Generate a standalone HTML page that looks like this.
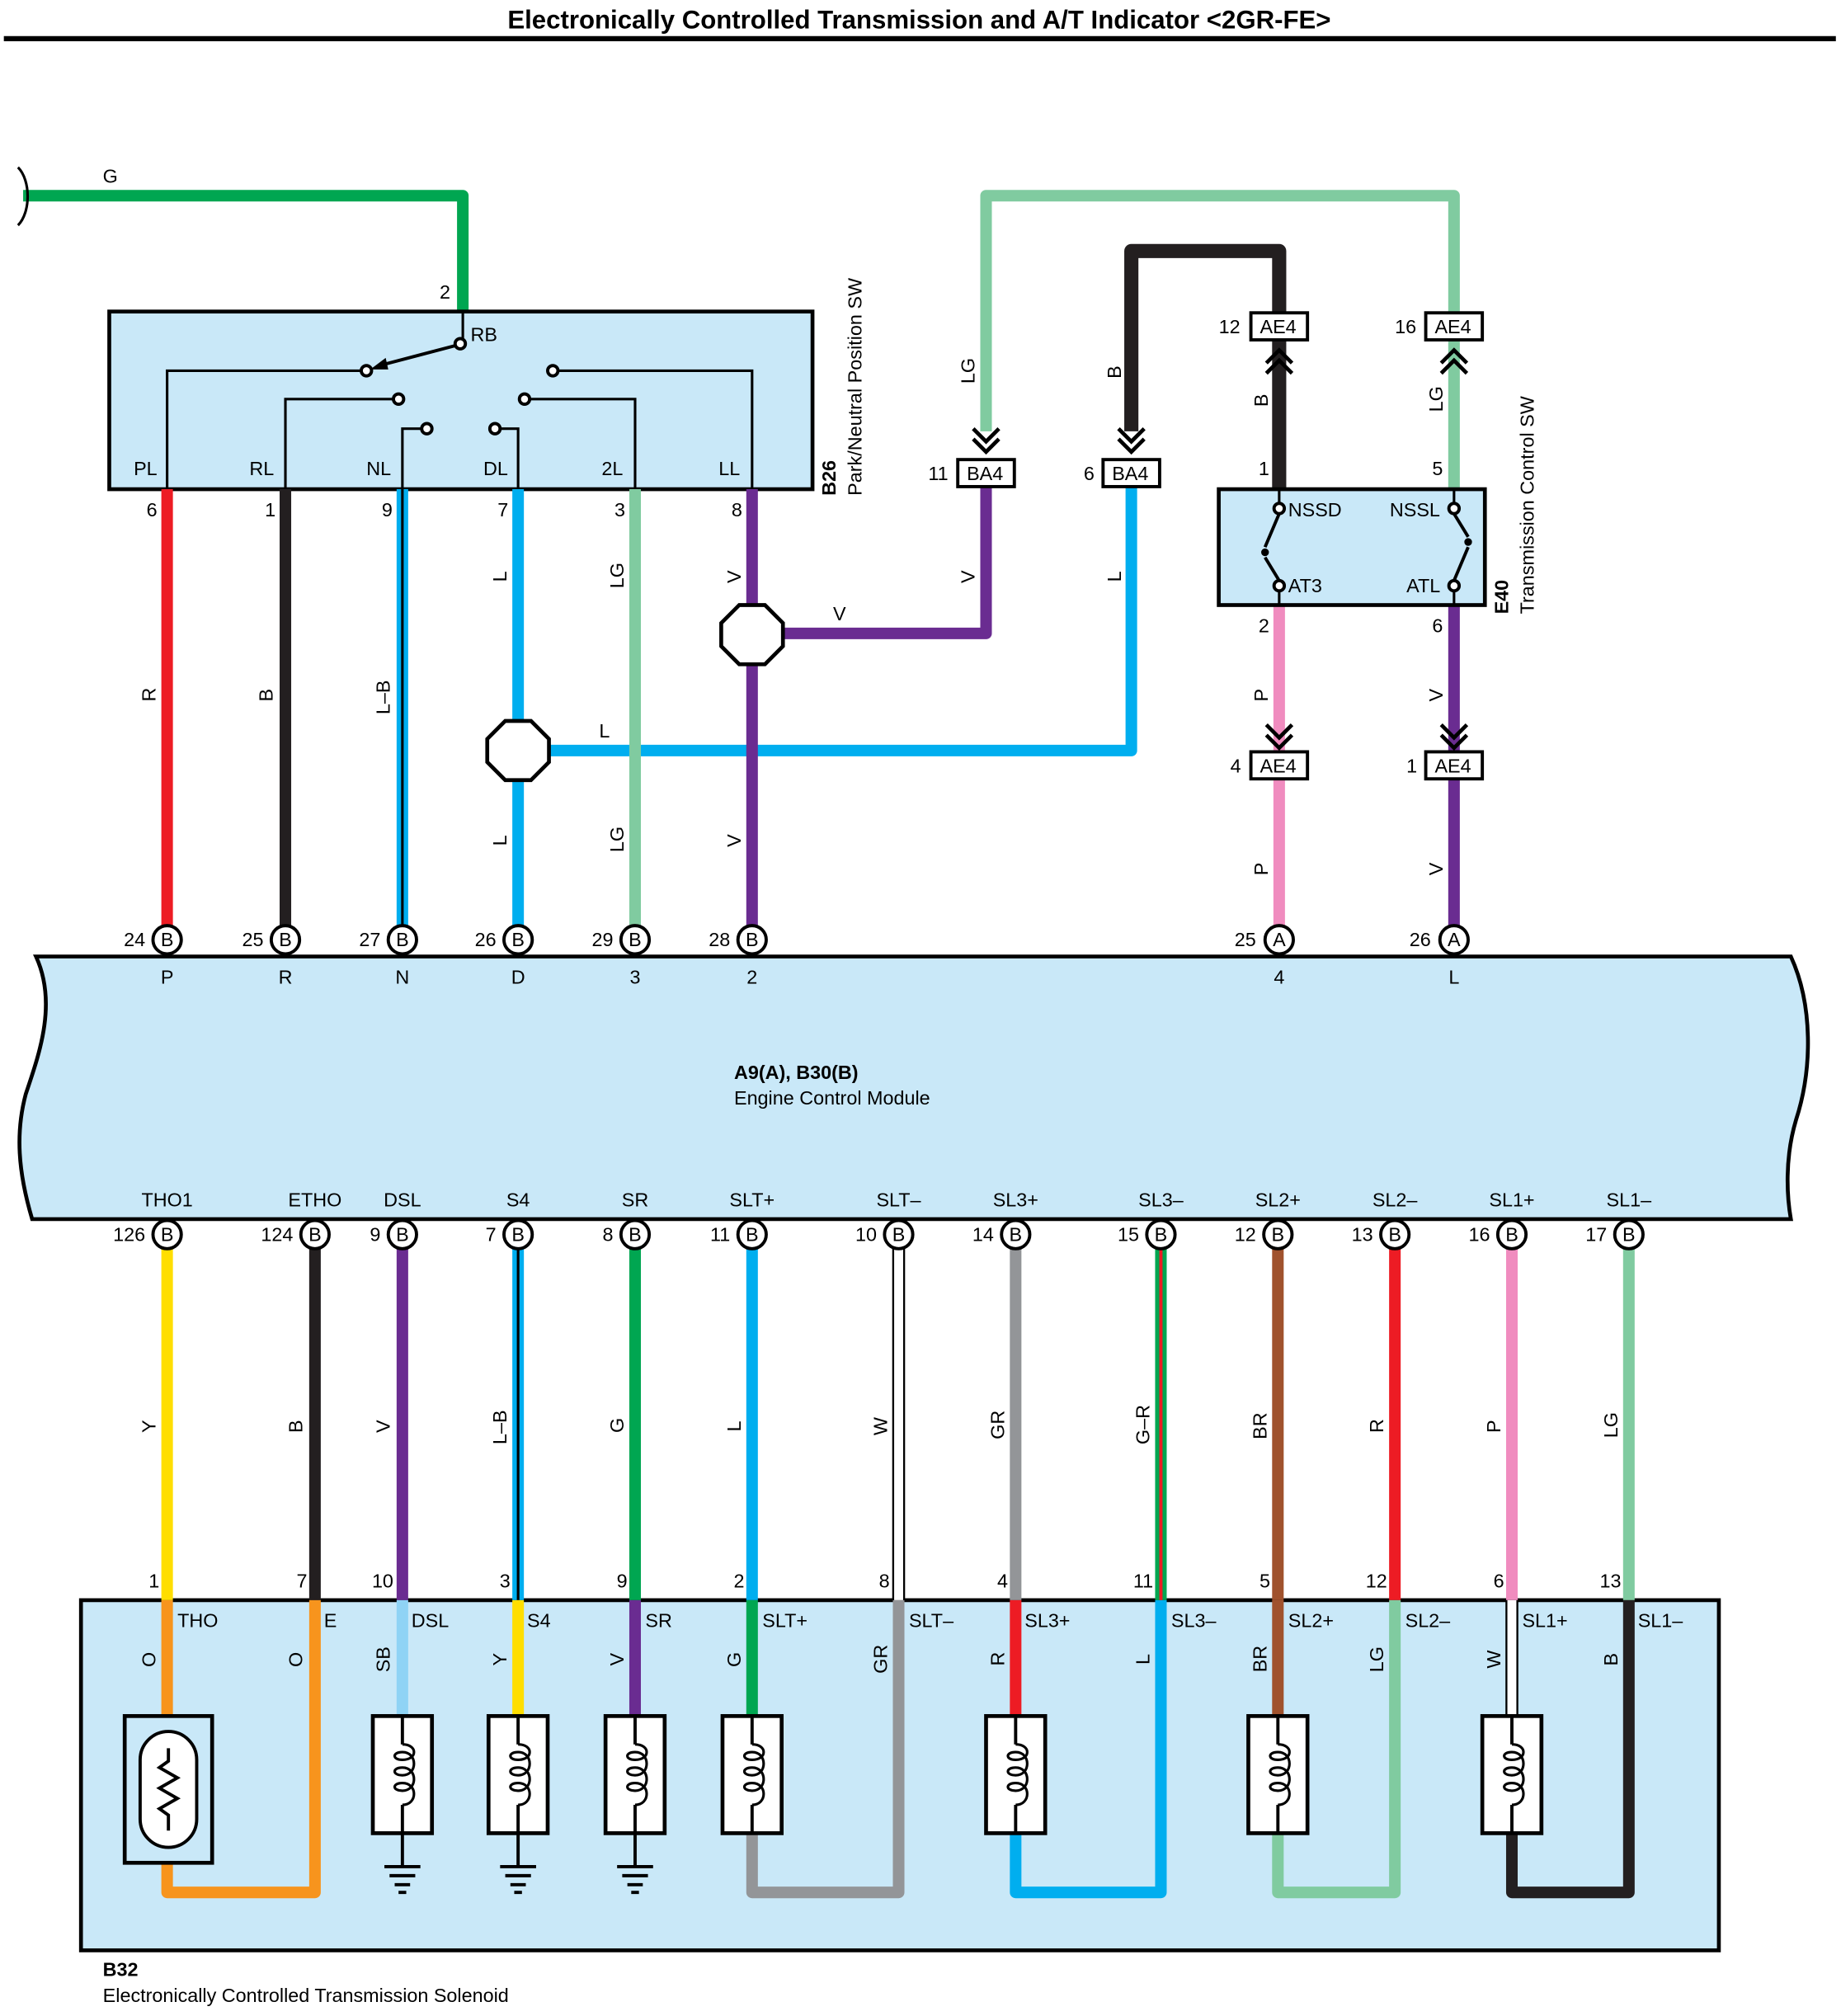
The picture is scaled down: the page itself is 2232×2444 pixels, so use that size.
<!DOCTYPE html>
<html><head><meta charset="utf-8"><style>
html,body{margin:0;padding:0;background:#fff}
svg{display:block}
text{font-family:"Liberation Sans",Arial,sans-serif;font-size:15px;fill:#000}
.b{font-weight:bold}
.w{fill:none;stroke-width:9;stroke-linejoin:round}
.t{fill:none;stroke:#000;stroke-width:2}
.c{fill:#fff;stroke:#000;stroke-width:2.5}
.box{fill:#c9e8f8;stroke:#000;stroke-width:3}
</style></head><body>
<svg width="2232" height="2444" viewBox="0 0 1432 1566" preserveAspectRatio="none" xmlns="http://www.w3.org/2000/svg">
<defs>
<g id="cB">
<circle cx="0" cy="0" r="11" class="c"/>
<text x="0" y="5" text-anchor="middle">B</text>
</g>
</defs>
<text x="715" y="22" text-anchor="middle" class="b" style="font-size:20px">Electronically Controlled Transmission and A/T Indicator &lt;2GR-FE&gt;</text>
<line x1="3" y1="30" x2="1428" y2="30" stroke="#000" stroke-width="4"/>

<path d="M18,152 H360 V242" class="w" stroke="#00a651"/>
<path d="M14,130 C24,140 24,165 14,175" class="t" stroke-width="2.5"/>
<text x="80" y="142">G</text>
<text x="342" y="232">2</text>

<path d="M767,335 V152 H1131 V242" class="w" stroke="#80cba0"/>
<path d="M880,335 V195 H995 V242" class="w" stroke="#231f20" style="stroke-width:11"/>
<path d="M767,378 V492 H585" class="w" stroke="#6a2c91"/>
<path d="M880,378 V583 H403" class="w" stroke="#00aeef"/>
<path d="M995,265 V380" class="w" stroke="#231f20" style="stroke-width:11"/>
<path d="M1131,265 V380" class="w" stroke="#80cba0"/>
<path d="M995,470 V730" class="w" stroke="#f08cbf"/>
<path d="M1131,470 V730" class="w" stroke="#6a2c91"/>

<rect x="85" y="242" width="547" height="138" class="box"/>
<path d="M130,380 V730" class="w" stroke="#ed1c24"/>
<path d="M222,380 V730" class="w" stroke="#231f20"/>
<path d="M313,380 V730" class="w" stroke="#00aeef"/>
<line x1="313" y1="380" x2="313" y2="730" stroke="#000" stroke-width="2"/>
<path d="M403,380 V730" class="w" stroke="#00aeef"/>
<path d="M494,380 V730" class="w" stroke="#80cba0"/>
<path d="M585,380 V730" class="w" stroke="#6a2c91"/>
<path d="M130,380 V288 H281" class="t"/>
<path d="M222,380 V310 H306" class="t"/>
<path d="M313,380 V333 H328" class="t"/>
<path d="M403,380 V333 H389" class="t"/>
<path d="M494,380 V310 H412" class="t"/>
<path d="M585,380 V288 H434" class="t"/>
<path d="M360,242 V263" class="t"/>
<line x1="356" y1="268" x2="295" y2="284" stroke="#000" stroke-width="2.5"/>
<polygon points="288,287 300,278 302,287" fill="#000"/>
<circle cx="358" cy="267" r="4" class="c" stroke-width="2"/>
<circle cx="285" cy="288" r="4" class="c" stroke-width="2"/>
<circle cx="310" cy="310" r="4" class="c" stroke-width="2"/>
<circle cx="332" cy="333" r="4" class="c" stroke-width="2"/>
<circle cx="385" cy="333" r="4" class="c" stroke-width="2"/>
<circle cx="408" cy="310" r="4" class="c" stroke-width="2"/>
<circle cx="430" cy="288" r="4" class="c" stroke-width="2"/>
<text x="366" y="265">RB</text>
<text x="104" y="369">PL</text><text x="194" y="369">RL</text><text x="285" y="369">NL</text>
<text x="376" y="369">DL</text><text x="468" y="369">2L</text><text x="559" y="369">LL</text>
<text x="114" y="401">6</text><text x="206" y="401">1</text><text x="297" y="401">9</text>
<text x="387" y="401">7</text><text x="478" y="401">3</text><text x="569" y="401">8</text>
<text transform="translate(650,385) rotate(-90)" class="b">B26</text>
<text transform="translate(670,385) rotate(-90)">Park/Neutral Position SW</text>

<g>
<text transform="translate(121,545) rotate(-90)">R</text>
<text transform="translate(212,545) rotate(-90)">B</text>
<text transform="translate(303,555) rotate(-90)">L–B</text>
<text transform="translate(394,452) rotate(-90)">L</text>
<text transform="translate(394,657) rotate(-90)">L</text>
<text transform="translate(485,457) rotate(-90)">LG</text>
<text transform="translate(485,662) rotate(-90)">LG</text>
<text transform="translate(576,453) rotate(-90)">V</text>
<text transform="translate(576,658) rotate(-90)">V</text>
<text transform="translate(758,298) rotate(-90)">LG</text>
<text transform="translate(872,294) rotate(-90)">B</text>
<text transform="translate(758,453) rotate(-90)">V</text>
<text transform="translate(872,452) rotate(-90)">L</text>
<text transform="translate(986,316) rotate(-90)">B</text>
<text transform="translate(1122,320) rotate(-90)">LG</text>
<text transform="translate(986,545) rotate(-90)">P</text>
<text transform="translate(986,680) rotate(-90)">P</text>
<text transform="translate(1122,545) rotate(-90)">V</text>
<text transform="translate(1122,680) rotate(-90)">V</text>
</g>
<text x="648" y="482">V</text>
<text x="466" y="573">L</text>

<polygon points="575,470 595,470 609,484 609,502 595,516 575,516 561,502 561,484" fill="#fff" stroke="#000" stroke-width="3"/>
<polygon points="393,560 413,560 427,574 427,592 413,606 393,606 379,592 379,574" fill="#fff" stroke="#000" stroke-width="3"/>

<g fill="none" stroke="#000" stroke-width="3">
<path d="M757,333 L767,343 L777,333 M757,341 L767,351 L777,341"/>
<path d="M870,333 L880,343 L890,333 M870,341 L880,351 L890,341"/>
<path d="M985,282 L995,272 L1005,282 M985,290 L995,280 L1005,290"/>
<path d="M1121,282 L1131,272 L1141,282 M1121,290 L1131,280 L1141,290"/>
<path d="M985,563 L995,573 L1005,563 M985,571 L995,581 L1005,571"/>
<path d="M1121,563 L1131,573 L1141,563 M1121,571 L1131,581 L1141,571"/>
</g>
<g>
<rect x="745" y="357" width="44" height="21" fill="#fff" stroke="#000" stroke-width="2.5"/><text x="752" y="373">BA4</text>
<rect x="858" y="357" width="44" height="21" fill="#fff" stroke="#000" stroke-width="2.5"/><text x="865" y="373">BA4</text>
<rect x="973" y="243" width="44" height="21" fill="#fff" stroke="#000" stroke-width="2.5"/><text x="980" y="259">AE4</text>
<rect x="1109" y="243" width="44" height="21" fill="#fff" stroke="#000" stroke-width="2.5"/><text x="1116" y="259">AE4</text>
<rect x="973" y="584" width="44" height="21" fill="#fff" stroke="#000" stroke-width="2.5"/><text x="980" y="600">AE4</text>
<rect x="1109" y="584" width="44" height="21" fill="#fff" stroke="#000" stroke-width="2.5"/><text x="1116" y="600">AE4</text>
</g>
<text x="722" y="373">11</text><text x="843" y="373">6</text>
<text x="948" y="259">12</text><text x="1085" y="259">16</text>
<text x="957" y="600">4</text><text x="1094" y="600">1</text>
<text x="979" y="369">1</text><text x="1114" y="369">5</text>
<text x="979" y="491">2</text><text x="1114" y="491">6</text>

<rect x="948" y="380" width="207" height="90" class="box"/>
<path d="M995,380 V391 M995,459 V470 M1131,380 V391 M1131,459 V470" class="t"/>
<circle cx="995" cy="395" r="4" class="c" stroke-width="2"/>
<circle cx="995" cy="455" r="4" class="c" stroke-width="2"/>
<circle cx="1131" cy="395" r="4" class="c" stroke-width="2"/>
<circle cx="1131" cy="455" r="4" class="c" stroke-width="2"/>
<path d="M995,399 L984,425 M984,433 L995,451" stroke="#000" stroke-width="2.5" fill="none"/>
<circle cx="984" cy="429" r="3" fill="#000"/>
<path d="M1131,451 L1142,425 M1142,417 L1131,399" stroke="#000" stroke-width="2.5" fill="none"/>
<circle cx="1142" cy="421" r="3" fill="#000"/>
<text x="1002" y="401">NSSD</text><text x="1081" y="401">NSSL</text>
<text x="1002" y="460">AT3</text><text x="1094" y="460">ATL</text>
<text transform="translate(1173,477) rotate(-90)" class="b">E40</text>
<text transform="translate(1193,477) rotate(-90)">Transmission Control SW</text>

<path d="M28,743 L1393,743 C1410,780 1410,830 1397,870 C1388,900 1390,930 1393,947 L25,947 C14,910 12,880 20,850 C30,820 45,780 28,743 Z" fill="#c9e8f8" stroke="#000" stroke-width="3"/>
<text x="571" y="838" class="b">A9(A), B30(B)</text>
<text x="571" y="858">Engine Control Module</text>
<g text-anchor="middle">
<text x="130" y="764">P</text><text x="222" y="764">R</text><text x="313" y="764">N</text>
<text x="403" y="764">D</text><text x="494" y="764">3</text><text x="585" y="764">2</text>
<text x="995" y="764">4</text><text x="1131" y="764">L</text>
<text x="130" y="937">THO1</text><text x="245" y="937">ETHO</text><text x="313" y="937">DSL</text>
<text x="403" y="937">S4</text><text x="494" y="937">SR</text><text x="585" y="937">SLT+</text>
<text x="699" y="937">SLT–</text><text x="790" y="937">SL3+</text><text x="903" y="937">SL3–</text>
<text x="994" y="937">SL2+</text><text x="1085" y="937">SL2–</text><text x="1176" y="937">SL1+</text>
<text x="1267" y="937">SL1–</text>
</g>

<rect x="63" y="1243" width="1274" height="272" class="box"/>
<text x="80" y="1535" class="b">B32</text>
<text x="80" y="1555">Electronically Controlled Transmission Solenoid</text>

<path d="M130,959 V1243" class="w" stroke="#ffde00"/>
<path d="M245,959 V1243" class="w" stroke="#231f20"/>
<path d="M313,959 V1243" class="w" stroke="#6a2c91"/>
<path d="M403,959 V1243" class="w" stroke="#00aeef"/><line x1="403" y1="959" x2="403" y2="1243" stroke="#000" stroke-width="2"/>
<path d="M494,959 V1243" class="w" stroke="#00a651"/>
<path d="M585,959 V1243" class="w" stroke="#00aeef"/>
<path d="M699,959 V1243" class="w" stroke="#000" style="stroke-width:10"/><path d="M699,959 V1243" class="w" stroke="#fff" style="stroke-width:7"/>
<path d="M790,959 V1243" class="w" stroke="#939598"/>
<path d="M903,959 V1243" class="w" stroke="#00a651"/><line x1="903" y1="959" x2="903" y2="1243" stroke="#ed1c24" stroke-width="2.5"/>
<path d="M994,959 V1243" class="w" stroke="#a0522d"/>
<path d="M1085,959 V1243" class="w" stroke="#ed1c24"/>
<path d="M1176,959 V1243" class="w" stroke="#f08cbf"/>
<path d="M1267,959 V1243" class="w" stroke="#80cba0"/>

<path d="M130,1243 V1333 M130,1447 V1470 H245 V1243" class="w" stroke="#f7941d"/>
<path d="M313,1243 V1333" class="w" stroke="#8fd3f5"/>
<path d="M403,1243 V1333" class="w" stroke="#ffde00"/>
<path d="M494,1243 V1333" class="w" stroke="#6a2c91"/>
<path d="M585,1243 V1333" class="w" stroke="#00a651"/>
<path d="M585,1424 V1470 H699 V1243" class="w" stroke="#939598"/>
<path d="M790,1243 V1333" class="w" stroke="#ed1c24"/>
<path d="M790,1424 V1470 H903 V1243" class="w" stroke="#00aeef"/>
<path d="M994,1243 V1333" class="w" stroke="#a0522d"/>
<path d="M994,1424 V1470 H1085 V1243" class="w" stroke="#80cba0"/>
<path d="M1176,1243 V1333" class="w" stroke="#000" style="stroke-width:10"/><path d="M1176,1243 V1333" class="w" stroke="#fff" style="stroke-width:7"/>
<path d="M1176,1424 V1470 H1267 V1243" class="w" stroke="#231f20"/>

<rect x="97" y="1333" width="68" height="114" fill="#c9e8f8" stroke="#000" stroke-width="3"/>
<rect x="109" y="1345" width="44" height="90" rx="22" fill="#fff" stroke="#000" stroke-width="2.5"/>
<path d="M131,1358 V1368 L124,1373 L138,1381 L124,1389 L138,1397 L124,1405 L131,1410 V1422" fill="none" stroke="#000" stroke-width="2.5"/>

<g id="sol">
<rect x="290" y="1333" width="46" height="91" fill="#fff" stroke="#000" stroke-width="3"/>
<path d="M313,1333 V1355 M313,1402 V1424" stroke="#000" stroke-width="2.5"/>
<path d="M313,1355 C325,1355 325,1367 313,1367 C305,1367 305,1361 313,1361 C325,1361 325,1379 313,1379 C305,1379 305,1373 313,1373 C325,1373 325,1391 313,1391 C305,1391 305,1385 313,1385 C325,1385 325,1402 313,1402" fill="none" stroke="#000" stroke-width="2"/>
</g>
<use href="#sol" x="90"/><use href="#sol" x="181"/><use href="#sol" x="272"/>
<use href="#sol" x="477"/><use href="#sol" x="681"/><use href="#sol" x="863"/>

<g id="gnd" stroke="#000" stroke-width="2.5">
<line x1="313" y1="1424" x2="313" y2="1450"/>
<line x1="299" y1="1450" x2="327" y2="1450"/>
<line x1="303" y1="1457" x2="323" y2="1457"/>
<line x1="307" y1="1464" x2="319" y2="1464"/>
<line x1="310" y1="1470" x2="316" y2="1470"/>
</g>
<use href="#gnd" x="90"/><use href="#gnd" x="181"/>

<use href="#cB" x="130" y="730"/><use href="#cB" x="222" y="730"/><use href="#cB" x="313" y="730"/>
<use href="#cB" x="403" y="730"/><use href="#cB" x="494" y="730"/><use href="#cB" x="585" y="730"/>
<circle cx="995" cy="730" r="11" class="c"/><text x="995" y="735" text-anchor="middle">A</text>
<circle cx="1131" cy="730" r="11" class="c"/><text x="1131" y="735" text-anchor="middle">A</text>
<use href="#cB" x="130" y="959"/><use href="#cB" x="245" y="959"/><use href="#cB" x="313" y="959"/>
<use href="#cB" x="403" y="959"/><use href="#cB" x="494" y="959"/><use href="#cB" x="585" y="959"/>
<use href="#cB" x="699" y="959"/><use href="#cB" x="790" y="959"/><use href="#cB" x="903" y="959"/>
<use href="#cB" x="994" y="959"/><use href="#cB" x="1085" y="959"/><use href="#cB" x="1176" y="959"/>
<use href="#cB" x="1267" y="959"/>

<g text-anchor="end">
<text x="113" y="735">24</text><text x="205" y="735">25</text><text x="296" y="735">27</text>
<text x="386" y="735">26</text><text x="477" y="735">29</text><text x="568" y="735">28</text>
<text x="977" y="735">25</text><text x="1113" y="735">26</text>
<text x="113" y="964">126</text><text x="228" y="964">124</text><text x="296" y="964">9</text>
<text x="386" y="964">7</text><text x="477" y="964">8</text><text x="568" y="964">11</text>
<text x="682" y="964">10</text><text x="773" y="964">14</text><text x="886" y="964">15</text>
<text x="977" y="964">12</text><text x="1068" y="964">13</text><text x="1159" y="964">16</text>
<text x="1250" y="964">17</text>
<text x="124" y="1233">1</text><text x="239" y="1233">7</text><text x="306" y="1233">10</text>
<text x="397" y="1233">3</text><text x="488" y="1233">9</text><text x="579" y="1233">2</text>
<text x="692" y="1233">8</text><text x="784" y="1233">4</text><text x="897" y="1233">11</text>
<text x="988" y="1233">5</text><text x="1079" y="1233">12</text><text x="1170" y="1233">6</text>
<text x="1261" y="1233">13</text>
</g>

<g>
<text transform="translate(121,1113) rotate(-90)">Y</text>
<text transform="translate(235,1113) rotate(-90)">B</text>
<text transform="translate(303,1113) rotate(-90)">V</text>
<text transform="translate(394,1122) rotate(-90)">L–B</text>
<text transform="translate(485,1113) rotate(-90)">G</text>
<text transform="translate(576,1112) rotate(-90)">L</text>
<text transform="translate(690,1115) rotate(-90)">W</text>
<text transform="translate(781,1118) rotate(-90)">GR</text>
<text transform="translate(894,1122) rotate(-90)">G–R</text>
<text transform="translate(985,1118) rotate(-90)">BR</text>
<text transform="translate(1076,1113) rotate(-90)">R</text>
<text transform="translate(1167,1113) rotate(-90)">P</text>
<text transform="translate(1258,1117) rotate(-90)">LG</text>
<text transform="translate(121,1295) rotate(-90)">O</text>
<text transform="translate(235,1295) rotate(-90)">O</text>
<text transform="translate(303,1299) rotate(-90)">SB</text>
<text transform="translate(394,1294) rotate(-90)">Y</text>
<text transform="translate(485,1294) rotate(-90)">V</text>
<text transform="translate(576,1295) rotate(-90)">G</text>
<text transform="translate(690,1300) rotate(-90)">GR</text>
<text transform="translate(781,1294) rotate(-90)">R</text>
<text transform="translate(894,1293) rotate(-90)">L</text>
<text transform="translate(985,1299) rotate(-90)">BR</text>
<text transform="translate(1076,1299) rotate(-90)">LG</text>
<text transform="translate(1167,1296) rotate(-90)">W</text>
<text transform="translate(1258,1294) rotate(-90)">B</text>
</g>
<text x="138" y="1264">THO</text><text x="252" y="1264">E</text><text x="320" y="1264">DSL</text>
<text x="410" y="1264">S4</text><text x="502" y="1264">SR</text><text x="593" y="1264">SLT+</text>
<text x="707" y="1264">SLT–</text><text x="797" y="1264">SL3+</text><text x="911" y="1264">SL3–</text>
<text x="1002" y="1264">SL2+</text><text x="1093" y="1264">SL2–</text><text x="1184" y="1264">SL1+</text>
<text x="1274" y="1264">SL1–</text>
</svg>
</body></html>
